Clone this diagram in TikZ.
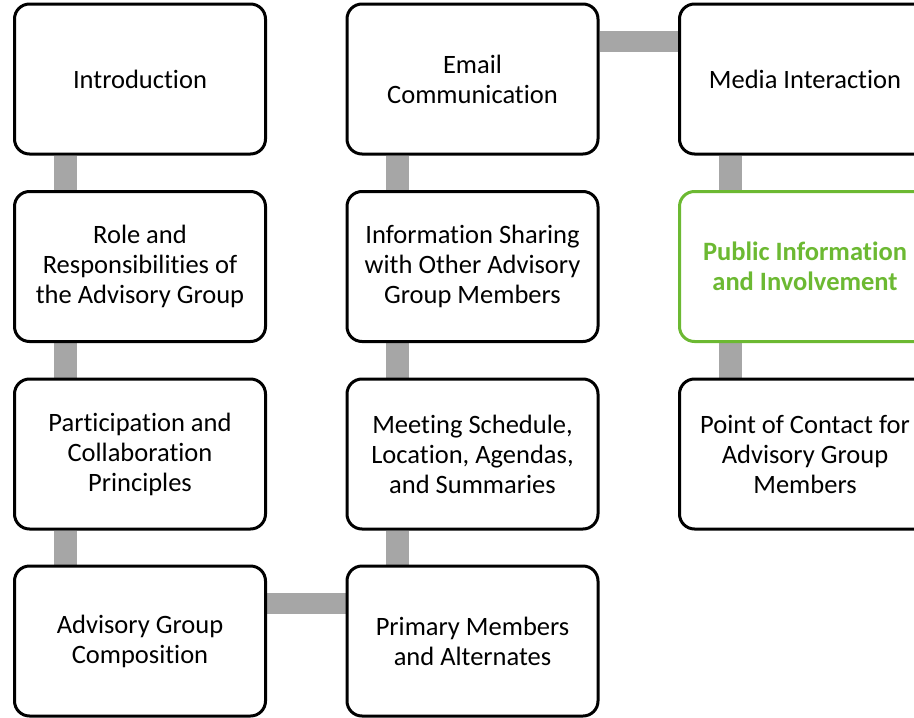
\documentclass[tikz,border=0pt]{standalone}
\usepackage{fontspec}
\setmainfont{Carlito}[Ligatures={NoCommon,NoContextual,NoRare},Contextuals={NoAlternate}]
\usetikzlibrary{backgrounds}
\definecolor{conngray}{RGB}{166,166,166}
\definecolor{accgreen}{RGB}{108,185,50}
\newcommand{\tinl}{t\kern0pt i}
\begin{document}
\begin{tikzpicture}[x=1pt,y=-1pt,
  box/.style={draw=black, line width=3pt, rounded corners=15pt, fill=white,
    minimum width=251pt, minimum height=150pt, align=center, inner sep=0pt,
    font=\fontsize{26.5pt}{30pt}\selectfont},
  hibox/.style={box, draw=accgreen, text=accgreen, font=\fontsize{26.5pt}{30pt}\selectfont\bfseries},
  conn/.style={draw=conngray, line width=23pt},
  hconn/.style={draw=conngray, line width=21pt}]
\useasboundingbox (0,0) rectangle (914,718);
\node[box] (a1) at (140,79) {Introduc\tinl on};
\node[box] (a2) at (140,266.5) {Role and\\Responsibili\tinl es of\\the Advisory Group};
\node[box] (a3) at (140,454) {Par\tinl cipa\tinl on and\\Collabora\tinl on\\Principles};
\node[box] (a4) at (140,641) {Advisory Group\\Composi\tinl on};
\node[box] (b4) at (472.5,641) {Primary Members\\and Alternates};
\node[box] (b3) at (472.5,454) {Mee\tinl ng Schedule,\\Loca\tinl on, Agendas,\\and Summaries};
\node[box] (b2) at (472.5,266.5) {Informa\tinl on Sharing\\with Other Advisory\\Group Members};
\node[box] (b1) at (472.5,79) {Email\\Communica\tinl on};
\node[box] (c1) at (805,79) {Media Interac\tinl on};
\node[hibox] (c2) at (805,266.5) {Public Informa\tinl on\\and Involvement};
\node[box] (c3) at (805,454) {Point of Contact for\\Advisory Group\\Members};
\begin{scope}[on background layer]
  \draw[conn] ([xshift=-75pt]a1.south) -- ([xshift=-75pt]a2.north);
  \draw[conn] ([xshift=-75pt]a2.south) -- ([xshift=-75pt]a3.north);
  \draw[conn] ([xshift=-75pt]a3.south) -- ([xshift=-75pt]a4.north);
  \draw[hconn] ([yshift=38pt]a4.east) -- ([yshift=38pt]b4.west);
  \draw[conn] ([xshift=-75pt]b4.north) -- ([xshift=-75pt]b3.south);
  \draw[conn] ([xshift=-75pt]b3.north) -- ([xshift=-75pt]b2.south);
  \draw[conn] ([xshift=-75pt]b2.north) -- ([xshift=-75pt]b1.south);
  \draw[hconn] ([yshift=38pt]b1.east) -- ([yshift=38pt]c1.west);
  \draw[conn] ([xshift=-75pt]c1.south) -- ([xshift=-75pt]c2.north);
  \draw[conn] ([xshift=-75pt]c2.south) -- ([xshift=-75pt]c3.north);
\end{scope}
\end{tikzpicture}
\end{document}
